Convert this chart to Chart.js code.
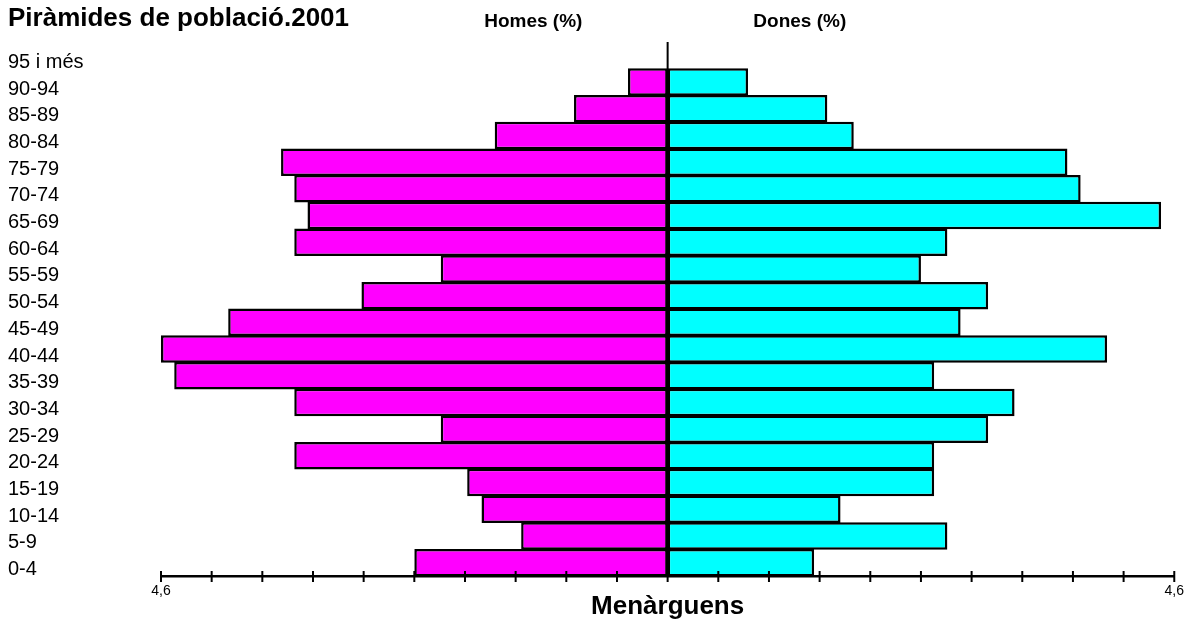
<!DOCTYPE html>
<html lang="ca">
<head>
  <meta charset="UTF-8">
  <title>Piràmides de població.2001</title>
  <script src="https://cdn.jsdelivr.net/npm/chart.js"></script>
  <style>
    body { margin: 0; background: #fff; }
    .wrap { width: 1191px; height: 624px; }
  </style>
</head>
<body>
  <div class="wrap"><canvas id="piramide"></canvas></div>

  <script>
    const titol = 'Piràmides de població.2001';
    const poble = 'Menàrguens';
    const edats = ['95 i més', '90-94', '85-89', '80-84', '75-79', '70-74', '65-69', '60-64', '55-59', '50-54',
                   '45-49', '40-44', '35-39', '30-34', '25-29', '20-24', '15-19', '10-14', '5-9', '0-4'];
    // percentatges, de dalt a baix
    const homes = [null, 0.36, 0.85, 1.57, 3.51, 3.39, 3.27, 3.39, 2.06, 2.78,
                   3.99, 4.60, 4.48, 3.39, 2.06, 3.39, 1.82, 1.69, 1.33, 2.30];
    const dones = [null, 0.73, 1.45, 1.69, 3.63, 3.75, 4.48, 2.54, 2.30, 2.91,
                   2.66, 3.99, 2.42, 3.15, 2.91, 2.42, 2.42, 1.57, 2.54, 1.33];
    const maxEix = 4.6;
    const pas = 0.46;

    const font = '"Liberation Sans", Arial, sans-serif';

    const extres = {
      id: 'extres',
      afterDatasetsDraw(chart) {
        const { ctx, chartArea, scales: { x } } = chart;
        ctx.save();
        ctx.strokeStyle = '#000';
        ctx.lineWidth = 2;
        const x0 = x.getPixelForValue(0);
        ctx.beginPath();
        ctx.moveTo(x0, chartArea.top);
        ctx.lineTo(x0, chartArea.bottom);
        ctx.stroke();
        x.ticks.forEach(t => {
          const px = x.getPixelForValue(t.value);
          ctx.beginPath();
          ctx.moveTo(px, chartArea.bottom - 5);
          ctx.lineTo(px, chartArea.bottom + 6);
          ctx.stroke();
        });

        ctx.fillStyle = '#000';
        ctx.textBaseline = 'middle';
        ctx.textAlign = 'left';
        ctx.font = 'bold 26px ' + font;
        ctx.fillText(titol, 8, 19);
        ctx.textAlign = 'center';
        ctx.font = 'bold 19px ' + font;
        ctx.fillText('Homes (%)', x.getPixelForValue(-1.22), 22);
        ctx.fillText('Dones (%)', x.getPixelForValue(1.2), 22);
        ctx.restore();
      }
    };

    new Chart(document.getElementById('piramide'), {
      type: 'bar',
      data: {
        labels: edats,
        datasets: [
          { label: 'Homes', data: homes.map(v => v === null ? null : -v), backgroundColor: '#ff00ff' },
          { label: 'Dones', data: dones, backgroundColor: '#00ffff' }
        ]
      },
      options: {
        indexAxis: 'y',
        responsive: true,
        maintainAspectRatio: false,
        animation: false,
        layout: { padding: { left: 8, right: 15, top: 42, bottom: 0 } },
        datasets: {
          bar: {
            borderColor: '#000',
            borderWidth: 2.5,
            borderSkipped: false,
            barPercentage: 1.03,
            categoryPercentage: 1
          }
        },
        plugins: { legend: { display: false }, tooltip: { enabled: false } },
        scales: {
          x: {
            stacked: true,
            min: -maxEix,
            max: maxEix,
            afterFit: s => { s.height = 48; },
            grid: { display: false, drawTicks: false },
            border: { color: '#000', width: 2.5 },
            ticks: {
              stepSize: pas,
              autoSkip: false,
              maxRotation: 0,
              padding: 7,
              color: '#000',
              font: { family: font, size: 14 },
              callback: v => Math.abs(Math.abs(v) - maxEix) < 0.01 ? '4,6' : ''
            },
            title: {
              display: true,
              text: poble,
              color: '#000',
              font: { family: font, size: 26, weight: 'bold' },
              padding: { top: 0, bottom: 2 }
            }
          },
          y: {
            stacked: true,
            afterFit: s => { s.width = 153; },
            grid: { display: false },
            border: { display: false },
            ticks: {
              autoSkip: false,
              crossAlign: 'far',
              labelOffset: 7,
              color: '#000',
              font: { family: font, size: 20 }
            }
          }
        }
      },
      plugins: [extres]
    });
  </script>
</body>
</html>
